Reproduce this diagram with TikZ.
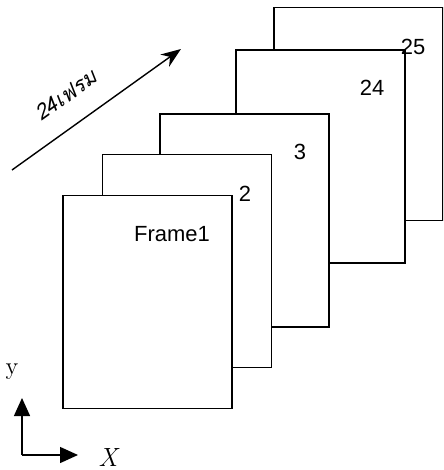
\documentclass[tikz,border=0pt]{standalone}
\usepackage{fontspec}
\usetikzlibrary{positioning, arrows.meta}
\newfontfamily\thaifont[Script=Thai, FakeSlant=0.25]{Loma}
\newfontfamily\numfont{Liberation Sans}

\begin{document}
\begin{tikzpicture}[
  x=0.02cm, y=-0.02cm,
  framebox/.style={draw, fill=white, line width=0.8pt, minimum width=3.38cm,
                   minimum height=4.26cm, inner sep=0pt},
  flabel/.style={font=\numfont\fontsize{12.5}{14}\selectfont, inner sep=0pt},
  arr/.style={-{Stealth[length=4mm, width=3mm]}, line width=0.8pt},
  axis/.style={-{Triangle[length=3.6mm, width=3.2mm]}, line width=0.8pt},
]
  \useasboundingbox (0,0) rectangle (443,470);
  \clip (0,0) rectangle (443,470);

  % stack of frames, back to front
  \node[framebox] (f25) at (358.5, 114) {};
  \node[framebox] (f24) at (320.5, 156.5) {};
  \node[framebox] (f3) at (244.5, 220.5) {};
  \node[framebox] (f2) at (187, 261) {};
  \node[framebox] (f1) at (147.5, 302) {};

  \node[flabel] (l25) at (413, 47) {25};
  \node[flabel] (l24) at (372, 88) {24};
  \node[flabel] (l3) at (300, 152) {3};
  \node[flabel] (l2) at (245, 194) {2};
  \node[flabel] (l1) at (172, 234) {Frame1};

  % time direction
  \coordinate (tstart) at (12, 170);
  \coordinate (tend) at (181, 49);
  \draw[arr] (tstart) -- node[sloped, above=11pt, pos=0.42, inner sep=1pt,
    font=\thaifont\fontsize{12}{14}\selectfont] (tlabel) {24เฟรม} (tend);

  % axes
  \coordinate (origin) at (22, 455);
  \coordinate (ytip) at (22, 398);
  \coordinate (xtip) at (78, 455);
  \draw[axis] (origin) -- (ytip);
  \draw[axis] (origin) -- (xtip);
  \node[font=\fontsize{14}{16}\selectfont] (ylab) at (12, 372) {y};
  \node[font=\itshape\fontsize{15}{17}\selectfont] (xlab) at (108, 457) {X};
\end{tikzpicture}
\end{document}
